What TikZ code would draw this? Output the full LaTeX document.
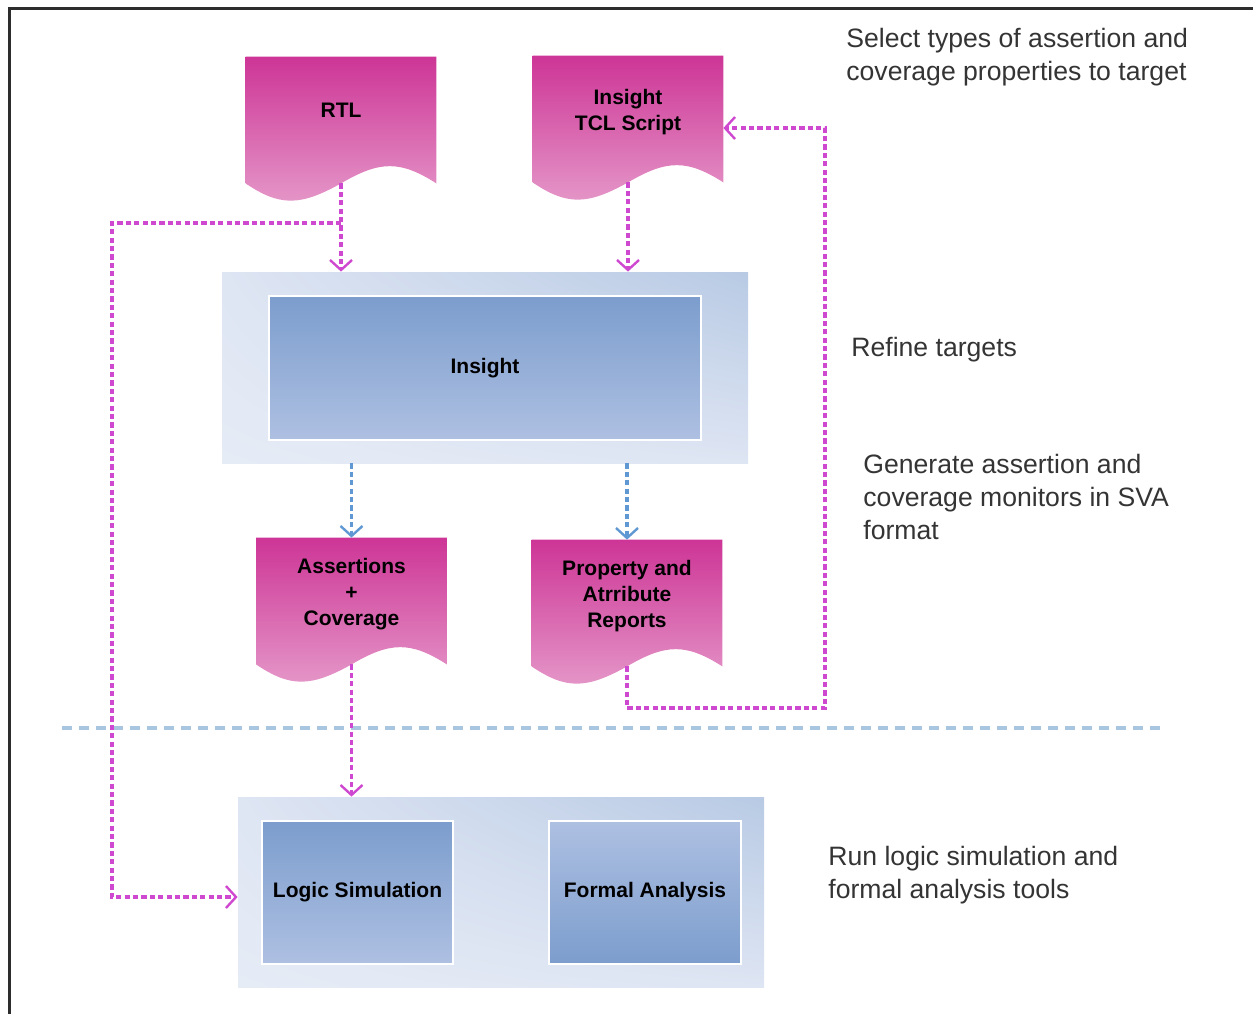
\documentclass[tikz,border=0pt]{standalone}
\usepackage{fontspec}
\setmainfont{Liberation Sans}
\usetikzlibrary{arrows.meta,positioning,calc,backgrounds,shadings}
\definecolor{docdark}{RGB}{205,53,150}
\definecolor{doclight}{RGB}{229,152,201}
\definecolor{flowpink}{RGB}{206,72,208}
\definecolor{flowblue}{RGB}{96,152,212}
\definecolor{tooldark}{RGB}{124,157,205}
\definecolor{toollight}{RGB}{174,192,226}
\definecolor{panelpale}{RGB}{230,236,246}
\definecolor{panelmid}{RGB}{222,229,243}
\definecolor{paneldeep}{RGB}{184,202,228}
\definecolor{sepblue}{RGB}{168,198,224}
\definecolor{notegray}{RGB}{52,52,52}
\definecolor{framegray}{RGB}{45,45,45}
\tikzset{
    docbox/.style={minimum width=95pt, minimum height=63pt, inner sep=0pt},
    doctext/.style={font=\fontsize{10.5}{13}\selectfont\bfseries, align=center, yshift=3.5pt},
    docfill/.style={top color=docdark, bottom color=doclight},
    toolbox/.style={draw=white, line width=1pt, top color=tooldark, bottom color=toollight, inner sep=0pt, align=center, font=\fontsize{10.5}{13}\selectfont\bfseries},
    panel/.style={inner sep=0pt, minimum width=263pt, upper left=panelmid, upper right=paneldeep, lower left=panelpale, lower right=panelmid},
    pinkflow/.style={draw=flowpink, line width=1.7pt, dash pattern=on 2.6pt off 1.6pt, -{Straight Barb[length=5pt, width=11pt, line width=1.2pt]}},
    blueflow/.style={draw=flowblue, line width=1.7pt, dash pattern=on 2.6pt off 1.6pt, -{Straight Barb[length=5pt, width=11pt, line width=1.2pt]}},
    note/.style={font=\fontsize{13.3}{16.5}\selectfont, text=notegray, align=left, anchor=west, inner sep=0pt}
}
\begin{document}
\begin{tikzpicture}[x=0.5pt, y=-0.5pt]
    \useasboundingbox (0,0) rectangle (1253,1014);
    \draw[framegray, line width=1.5pt] (1253,8) -- (9,8) -- (9,1014);

    % input documents
    \node[docbox, label={[doctext, yshift=1.5pt]center:RTL}] (rtl) at (341,120) {};
    \node[docbox, label={[doctext]center:Insight\\TCL Script}] (tcl) at (628,119) {};

    % insight tool
    \node[panel, minimum height=95.5pt] (insightpanel) at (485,367.5) {};
    \node[toolbox, minimum width=216pt, minimum height=72pt] (insight) at (485,368) {Insight};

    % generated files
    \node[docbox, label={[doctext]center:Assertions\\+\\Coverage}] (asrt) at (351.5,601) {};
    \node[docbox, label={[doctext]center:Property and\\Atrribute\\Reports}] (prop) at (627,603) {};

    % verification tools
    \node[panel, minimum height=95pt] (simpanel) at (501,892) {};
    \node[toolbox, minimum width=95.5pt, minimum height=71.5pt] (logicsim) at (357.5,892.5) {Logic Simulation};
    \node[toolbox, minimum width=96pt, minimum height=71.5pt, top color=toollight, bottom color=tooldark] (formal) at (645,892.5) {Formal Analysis};

    \begin{scope}[on background layer]
        \foreach \d in {rtl,tcl,asrt,prop}
            \shade[docfill] (\d.north west) -- (\d.north east) -- (\d.south east)
                .. controls +(-36,-23) and +(39,-23) .. (\d.south)
                .. controls +(-41,23) and +(34,23) .. (\d.south west) -- cycle;
    \end{scope}

    \draw[sepblue, line width=2.4pt, dash pattern=on 5pt off 3.5pt] (62,728) -- (1160,728);

    \coordinate (railL) at (112,223);
    \coordinate (railR) at (825,708);
    \draw[pinkflow] (rtl.south) -- (rtl.south |- insightpanel.north);
    \draw[pinkflow] (rtl.south |- railL) -- (railL) |- ([yshift=-2.5pt]simpanel.west);
    \draw[pinkflow] (tcl.south) -- (tcl.south |- insightpanel.north);
    \draw[blueflow] (insightpanel.south -| asrt.north) -- (asrt.north);
    \draw[blueflow] (insightpanel.south -| prop.north) -- (prop.north);
    \draw[pinkflow] (asrt.south) -- (asrt.south |- simpanel.north);
    \draw[pinkflow] (prop.south) |- (railR) |- ([yshift=-4.5pt]tcl.east);

    % step notes
    \node[note] (notesel) at (846,57) {Select types of assertion and\\coverage properties to target};
    \node[note] (noteref) at (851,350) {Refine targets};
    \node[note] (notegen) at (863,497) {Generate assertion and\\coverage monitors in SVA\\format};
    \node[note] (noterun) at (828,875) {Run logic simulation and\\formal analysis tools};
\end{tikzpicture}
\end{document}
